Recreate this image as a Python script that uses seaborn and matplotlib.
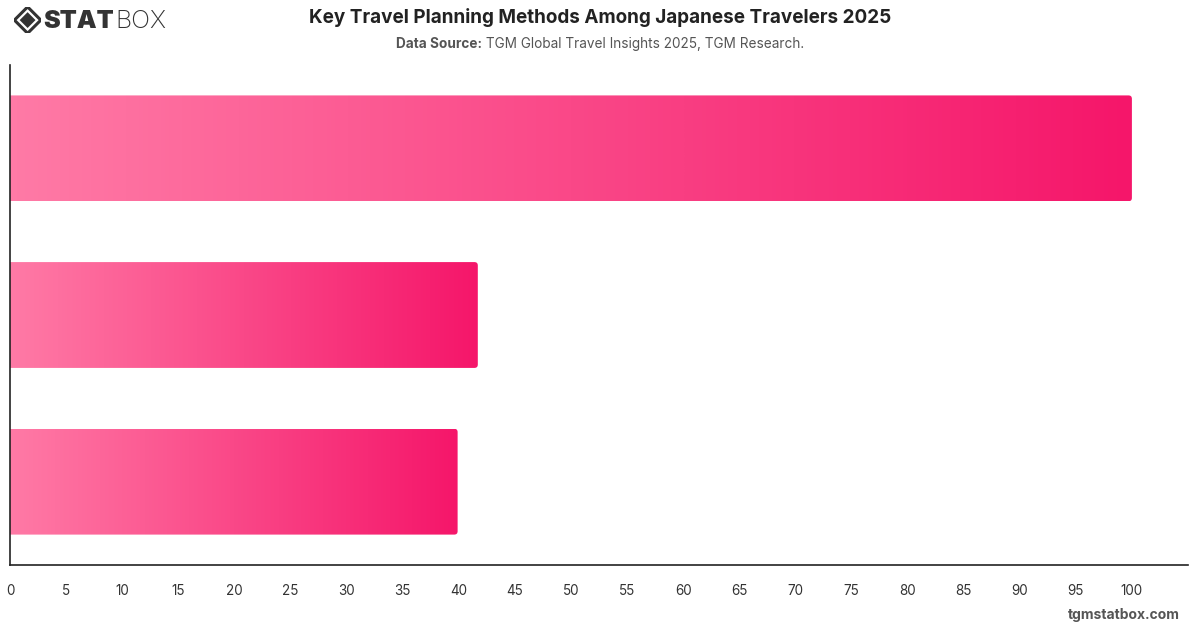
import matplotlib
matplotlib.use("Agg")
import matplotlib.pyplot as plt
import matplotlib.patches as mpatches
from matplotlib.colors import LinearSegmentedColormap
import seaborn as sns
import pandas as pd
import numpy as np

# data (category names are not shown on the chart)
methods = ["Online Research", "Travel Agencies", "Friends & Family"]
shares = [100, 41.7, 39.9]
tick_values = list(range(0, 105, 5))

df = pd.DataFrame({"method": methods, "share": shares})

sns.set_theme(style="white")
plt.rcParams["font.family"] = ["Inter", "DejaVu Sans"]

fig = plt.figure(figsize=(12, 6.28), dpi=100)
ax = fig.add_axes([0.0083, 0.1003, 0.9817, 0.7962])

sns.barplot(data=df, x="share", y="method", orient="h", width=0.635,
            color="#f7196b", ax=ax)

ax.set_xlim(0, 105)
ax.set_ylim(2.5, -0.5)

# gradient fill for each bar, clipped to a rounded box
cmap = LinearSegmentedColormap.from_list("pink", ["#ff7aa6", "#f5166a"])
grad = np.linspace(0, 1, 256).reshape(1, -1)
px_x = 1178 / 105
px_y = 500 / 3
for p in list(ax.patches):
    x0, y0 = p.get_x(), p.get_y()
    w, h = p.get_width(), p.get_height()
    p.set_visible(False)
    clip = mpatches.FancyBboxPatch((x0 - 1, y0), w + 1, h,
                                   boxstyle="round,pad=0,rounding_size=0.3",
                                   mutation_aspect=px_x / px_y,
                                   transform=ax.transData, facecolor="none",
                                   edgecolor="none")
    ax.add_patch(clip)
    im = ax.imshow(grad, cmap=cmap, aspect="auto", interpolation="bicubic",
                   extent=(x0, x0 + w, y0 + h, y0), zorder=2)
    im.set_clip_path(clip)

ax.set_xlim(0, 105)
ax.set_ylim(2.5, -0.5)
ax.set_xticks(tick_values)
ax.set_xticklabels([str(v) for v in tick_values], fontsize=9.7, color="#333333")
ax.set_yticks([])
ax.set_xlabel("")
ax.set_ylabel("")
ax.tick_params(axis="x", length=0, pad=14)

for s in ["top", "right"]:
    ax.spines[s].set_visible(False)
for s in ["left", "bottom"]:
    ax.spines[s].set_color("#222222")
    ax.spines[s].set_linewidth(1.2)

fig.text(0.5, 0.972, "Key Travel Planning Methods Among Japanese Travelers 2025",
         ha="center", va="center", fontsize=13.6, fontweight="bold", color="#222222")

# subtitle: bold label followed by normal text, centred as one line
renderer = fig.canvas.get_renderer()
sub_a = fig.text(0, 0.93, "Data Source:", ha="left", va="center", fontsize=9.8,
                 fontweight="bold", color="#555555")
sub_b = fig.text(0, 0.93, " TGM Global Travel Insights 2025, TGM Research.",
                 ha="left", va="center", fontsize=9.8, color="#555555")
wa = sub_a.get_window_extent(renderer).width / 1200
wb = sub_b.get_window_extent(renderer).width / 1200
start = 0.5 - (wa + wb) / 2
sub_a.set_x(start)
sub_b.set_x(start + wa)

fig.text(0.983, 0.021, "tgmstatbox.com", ha="right", va="center", fontsize=10,
         fontweight="bold", color="#555555")

# logo
logo_ax = fig.add_axes([0.012, 0.947, 0.022, 0.042])
logo_ax.set_xlim(-1, 1)
logo_ax.set_ylim(-1, 1)
logo_ax.axis("off")
logo_ax.add_patch(mpatches.Polygon([(0, 1), (1, 0), (0, -1), (-1, 0)], closed=True,
                                   facecolor="none", edgecolor="#333333", linewidth=2.2))
logo_ax.add_patch(mpatches.Polygon([(0, 0.6), (0.6, 0), (0, -0.6), (-0.6, 0)], closed=True,
                                   facecolor="#333333", edgecolor="none"))
stat = fig.text(0.036, 0.966, "STAT", ha="left", va="center", fontsize=18,
                fontweight="black", color="#333333")
ws = stat.get_window_extent(renderer).width / 1200
fig.text(0.036 + ws + 0.001, 0.966, "BOX", ha="left", va="center", fontsize=18,
         fontweight="light", color="#333333")

fig.savefig("out.png", dpi=100)
